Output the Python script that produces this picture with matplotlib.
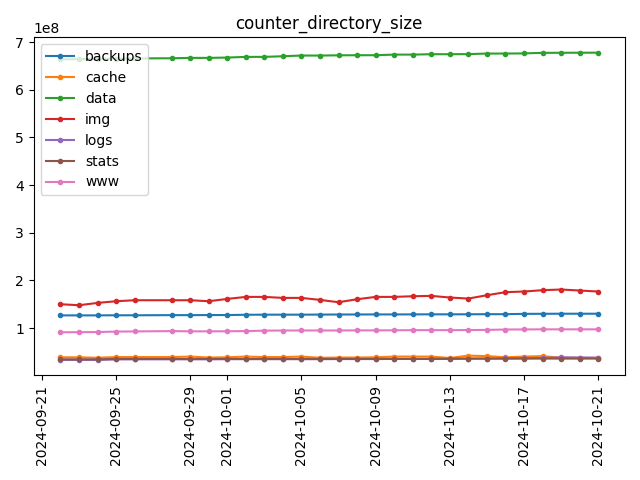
import matplotlib
matplotlib.use("Agg")
import matplotlib.pyplot as plt
import pandas as pd

dates = pd.to_datetime([
    "2024-09-22", "2024-09-23", "2024-09-24", "2024-09-25", "2024-09-26",
    "2024-09-28", "2024-09-29", "2024-09-30", "2024-10-01", "2024-10-02",
    "2024-10-03", "2024-10-04", "2024-10-05", "2024-10-06", "2024-10-07",
    "2024-10-08", "2024-10-09", "2024-10-10", "2024-10-11", "2024-10-12",
    "2024-10-13", "2024-10-14", "2024-10-15", "2024-10-16", "2024-10-17",
    "2024-10-18", "2024-10-19", "2024-10-20", "2024-10-21",
])

backups = [1.265, 1.265, 1.265, 1.267, 1.267, 1.270, 1.270, 1.272, 1.272, 1.278,
           1.280, 1.280, 1.280, 1.282, 1.283, 1.284, 1.285, 1.285, 1.286, 1.287,
           1.287, 1.288, 1.290, 1.290, 1.297, 1.298, 1.300, 1.300, 1.300]
cache = [0.385, 0.385, 0.375, 0.390, 0.390, 0.390, 0.400, 0.380, 0.385, 0.400,
         0.390, 0.390, 0.400, 0.375, 0.380, 0.380, 0.385, 0.400, 0.400, 0.400,
         0.370, 0.420, 0.410, 0.385, 0.400, 0.410, 0.375, 0.375, 0.370]
data = [6.640, 6.645, 6.650, 6.655, 6.660, 6.663, 6.671, 6.671, 6.678, 6.692,
        6.692, 6.706, 6.720, 6.720, 6.725, 6.727, 6.727, 6.740, 6.740, 6.748,
        6.748, 6.750, 6.762, 6.762, 6.765, 6.777, 6.778, 6.780, 6.780]
img = [1.499, 1.478, 1.527, 1.562, 1.583, 1.583, 1.583, 1.562, 1.611, 1.653,
       1.653, 1.632, 1.632, 1.590, 1.541, 1.604, 1.653, 1.653, 1.667, 1.674,
       1.640, 1.618, 1.688, 1.752, 1.766, 1.794, 1.808, 1.787, 1.766]
logs = [0.330, 0.330, 0.330, 0.340, 0.342, 0.342, 0.342, 0.342, 0.345, 0.345,
        0.345, 0.345, 0.345, 0.345, 0.348, 0.348, 0.348, 0.352, 0.352, 0.352,
        0.352, 0.357, 0.357, 0.362, 0.367, 0.372, 0.385, 0.380, 0.378]
stats = [0.342, 0.342, 0.342, 0.350, 0.350, 0.350, 0.350, 0.350, 0.350, 0.350,
         0.350, 0.350, 0.350, 0.350, 0.350, 0.350, 0.350, 0.350, 0.350, 0.350,
         0.354, 0.358, 0.358, 0.358, 0.358, 0.358, 0.358, 0.358, 0.358]
www = [0.910, 0.912, 0.915, 0.925, 0.928, 0.935, 0.930, 0.930, 0.932, 0.935,
       0.945, 0.947, 0.948, 0.948, 0.948, 0.950, 0.950, 0.952, 0.955, 0.955,
       0.955, 0.957, 0.960, 0.968, 0.970, 0.972, 0.972, 0.972, 0.972]

series = {
    "backups": backups,
    "cache": cache,
    "data": data,
    "img": img,
    "logs": logs,
    "stats": stats,
    "www": www,
}

fig, ax = plt.subplots(figsize=(6.4, 4.8), dpi=100)
for name, vals in series.items():
    ax.plot(dates, [v * 1e8 for v in vals], marker=".", label=name)

ax.set_title("counter_directory_size")
ax.legend(loc="upper left")
plt.xticks(rotation=90)
fig.tight_layout()
fig.savefig("out.png")
